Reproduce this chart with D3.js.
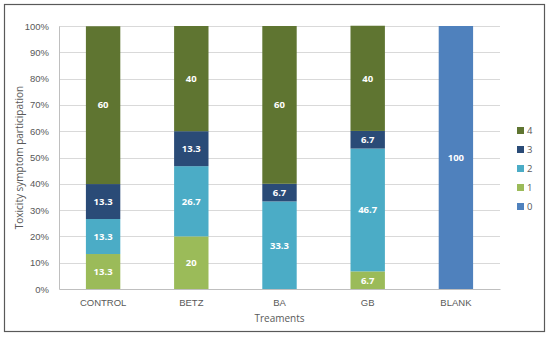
<!DOCTYPE html>
<html>
<head>
<meta charset="utf-8">
<script src="https://cdn.jsdelivr.net/npm/d3@7"></script>
<style>
  body { margin: 0; background: #fff; }
  svg { font-family: "Open Sans", "Liberation Sans", sans-serif; }
</style>
</head>
<body>
<svg width="550" height="340"></svg>
<script>
// data
var categories = ['CONTROL', 'BETZ', 'BA', 'GB', 'BLANK'];
var levels = ['0', '1', '2', '3', '4'];
var level0 = [0, 0, 0, 0, 100];
var level1 = [13.3, 20, 0, 6.7, 0];
var level2 = [13.3, 26.7, 33.3, 46.7, 0];
var level3 = [13.3, 13.3, 6.7, 6.7, 0];
var level4 = [60, 40, 60, 40, 0];
var yTicks = [0, 10, 20, 30, 40, 50, 60, 70, 80, 90, 100];

var colors = {'0': '#4f81bd', '1': '#9bbb59', '2': '#4bacc6', '3': '#2a4b77', '4': '#5f7531'};

var rows = categories.map(function(c, i) {
    return {cat: c, '0': level0[i], '1': level1[i], '2': level2[i], '3': level3[i], '4': level4[i]};
});

var svg = d3.select('svg');

// frame
svg.append('rect')
    .attr('x', 4.5).attr('y', 4.5)
    .attr('width', 540).attr('height', 327)
    .style('fill', '#fff')
    .style('stroke', '#595959')
    .style('stroke-width', 1.2);

var plotLeft = 59, plotRight = 500, plotTop = 26, plotBottom = 289;

var x = d3.scaleBand().domain(categories).range([plotLeft, plotRight]).paddingInner(0.61).paddingOuter(0.305);
var y = d3.scaleLinear().domain([0, 100]).range([plotBottom, plotTop]);

// grid
svg.append('g').selectAll('line')
    .data(yTicks.slice(1))
    .enter().append('line')
    .attr('x1', plotLeft).attr('x2', plotRight)
    .attr('y1', d => Math.round(y(d)) + 0.5).attr('y2', d => Math.round(y(d)) + 0.5)
    .style('stroke', '#d9d9d9');

// y axis
var yAxis = svg.append('g')
    .attr('transform', 'translate(' + plotLeft + ',0)')
    .call(d3.axisLeft(y).tickValues(yTicks).tickFormat(d => d + '%').tickSize(0).tickPadding(10));
yAxis.select('.domain').style('stroke', '#bfbfbf');
yAxis.selectAll('text').style('fill', '#595959').style('font-size', '9.5px');

// x axis
var xAxis = svg.append('g')
    .attr('transform', 'translate(0,' + plotBottom + ')')
    .call(d3.axisBottom(x).tickSize(0).tickPadding(10));
xAxis.select('.domain').style('stroke', '#bfbfbf');
xAxis.selectAll('text').style('fill', '#595959').style('font-size', '9.5px');

// stacked bars
var stack = d3.stack().keys(levels)(rows);
var layers = svg.append('g').selectAll('g')
    .data(stack)
    .enter().append('g')
    .style('fill', d => colors[d.key]);

layers.selectAll('rect')
    .data(d => d)
    .enter().append('rect')
    .attr('x', d => x(d.data.cat))
    .attr('width', x.bandwidth())
    .attr('y', d => y(d[1]))
    .attr('height', d => y(d[0]) - y(d[1]));

layers.selectAll('text')
    .data(d => d.filter(p => p[1] - p[0] > 0))
    .enter().append('text')
    .attr('x', d => x(d.data.cat) + x.bandwidth() / 2)
    .attr('y', d => (y(d[0]) + y(d[1])) / 2)
    .attr('dy', '0.35em')
    .attr('text-anchor', 'middle')
    .style('fill', '#fff')
    .style('font-weight', 'bold')
    .style('font-size', '9.5px')
    .text(d => d3.format('~g')(+(d[1] - d[0]).toFixed(1)));

// titles
svg.append('text')
    .attr('transform', 'translate(23,' + (plotTop + plotBottom) / 2 + ') rotate(-90)')
    .attr('text-anchor', 'middle')
    .style('fill', '#595959').style('font-size', '10px')
    .text('Toxicity symptom participation');

svg.append('text')
    .attr('x', (plotLeft + plotRight) / 2).attr('y', 322)
    .attr('text-anchor', 'middle')
    .style('fill', '#595959').style('font-size', '10px')
    .text('Treaments');

// legend
var legend = svg.append('g').selectAll('g')
    .data(levels.slice().reverse())
    .enter().append('g')
    .attr('transform', (d, i) => 'translate(517,' + (127 + i * 19) + ')');
legend.append('rect')
    .attr('width', 7).attr('height', 7)
    .style('fill', d => colors[d]);
legend.append('text')
    .attr('x', 10).attr('y', 4).attr('dy', '0.35em')
    .style('fill', '#595959').style('font-size', '9.5px')
    .text(d => d);
</script>
</body>
</html>
